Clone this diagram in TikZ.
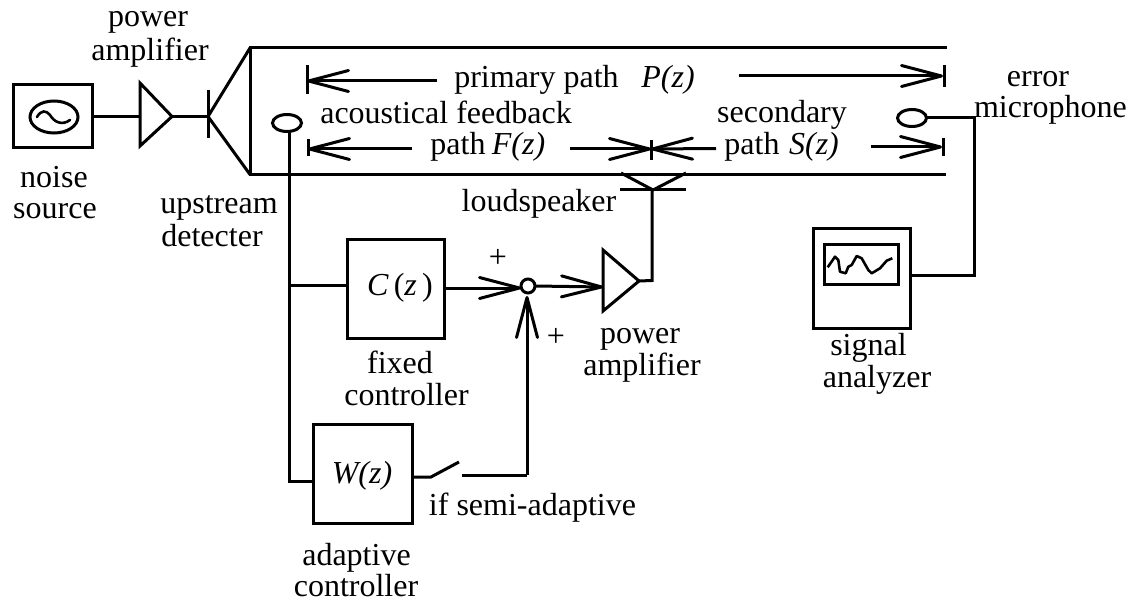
\documentclass[tikz,border=0pt]{standalone}
\usepackage{fontspec}
\setmainfont{Liberation Serif}
\usetikzlibrary{arrows.meta,shapes.geometric}
\tikzset{
  wire/.style={line width=3pt,line cap=butt,line join=miter},
  openhead/.style={-{Straight Barb[length=40pt,width=21pt,line width=3pt,round=false]}},
  box/.style={draw,line width=3pt,inner sep=0pt,outer sep=0pt},
  lbl/.style={inner sep=0pt,outer sep=0pt,anchor=base,font=\fontsize{32}{33}\selectfont},
  ital/.style={lbl,font=\fontsize{32}{33}\selectfont\itshape},
  mic/.style={draw,ellipse,line width=3pt,inner sep=0pt,outer sep=0pt,minimum width=29pt,minimum height=17pt},
}
\begin{document}
\begin{tikzpicture}[x=1pt,y=-1pt]
\useasboundingbox (0,0) rectangle (1138,604);
% nodes: boxes
\node[box,minimum width=79pt,minimum height=63pt] (src) at (53,116.5) {};
\node[box,ellipse,minimum width=48pt,minimum height=32pt] (srcosc) at (54,117) {};
\node[box,minimum width=97pt,minimum height=98pt] (cbox) at (395.5,289) {};
\node[box,minimum width=99pt,minimum height=99pt] (wbox) at (362.5,473.5) {};
\node[box,minimum width=97pt,minimum height=99pt] (ana) at (861.5,278.5) {};
\node[box,minimum width=74pt,minimum height=39pt] (anascreen) at (861,264.5) {};
\node[mic] (micL) at (287,123) {};
\node[mic] (micR) at (912,118) {};
\node[box,circle,minimum size=14pt] (sum) at (528,286) {};
% coordinates
\coordinate (ampA1) at (140,83);\coordinate (ampA2) at (140,146);\coordinate (ampAt) at (172,116.5);
\coordinate (ampAin) at (140,116.5);
\coordinate (det) at (208,116.5);
\coordinate (detT) at (208,90);\coordinate (detB) at (208,138);
\coordinate (hornT) at (250,48);\coordinate (hornB) at (250,174.5);
\coordinate (ductTE) at (946.5,48);\coordinate (ductBE) at (946,174.5);
\coordinate (pLt) at (307,65);\coordinate (pLb) at (307,94);\coordinate (pL) at (307,81);\coordinate (pLe) at (437,81);
\coordinate (pRs) at (739,76);\coordinate (pR) at (943,76);\coordinate (pRt) at (944,65);\coordinate (pRb) at (944,87);
\coordinate (fLt) at (308,139);\coordinate (fLb) at (308,156);\coordinate (fL) at (308,149);\coordinate (fLe) at (412,149);
\coordinate (fRs) at (570,149);\coordinate (mid) at (651,149);\coordinate (midT) at (651,140);\coordinate (midB) at (651,160);
\coordinate (sLs) at (716,148.5);
\coordinate (sRs) at (871,147);\coordinate (sR) at (942,147);\coordinate (sRt) at (943,138);\coordinate (sRb) at (943,156);
\coordinate (spkL) at (621,173);\coordinate (spkR) at (686,173);\coordinate (spkM) at (653,190);
\coordinate (spkBL) at (620,190);\coordinate (spkBR) at (686,190);
\coordinate (ampBo) at (652,280.5);
\coordinate (ampB1) at (603,250);\coordinate (ampB2) at (603,311);\coordinate (ampBt) at (639,281);\coordinate (ampBin) at (603,287);
\coordinate (busT) at (289.5,135);\coordinate (busC) at (289.5,285);\coordinate (busW) at (289.5,481);
\coordinate (cOut) at (521,288);
\coordinate (swA) at (431,477);\coordinate (swB) at (459,462);\coordinate (swC) at (462,475);\coordinate (swD) at (527,475);
\coordinate (sumIn) at (527,296);
\coordinate (errC) at (974,118);\coordinate (errD) at (974,275);
% duct
\draw[wire] (ductTE) -- (hornT) -- (hornB) -- (ductBE);
\draw[wire,line join=round] (hornT) -- (det) -- (hornB);
\draw[wire] (detT) -- (detB);
% source and amp
\draw[wire] (src.east) -- (ampAin);
\draw[wire] (ampAt) -- (det);
\draw[wire] (ampA1) -- (ampAt) -- (ampA2) -- cycle;
\draw[line width=2.6pt,line cap=round] (37,117) .. controls (41,110) and (46,110) .. (50,115) .. controls (54,122) and (62,126) .. (70,120);
% path arrows
\draw[wire] (pLt) -- (pLb);
\draw[wire,openhead] (pLe) -- (pL);
\draw[wire,openhead] (pRs) -- (pR);
\draw[wire] (pRt) -- (pRb);
\draw[wire] (fLt) -- (fLb);
\draw[wire,openhead] (fLe) -- (fL);
\draw[wire,openhead] (fRs) -- (mid);
\draw[wire] (midT) -- (midB);
\draw[wire,openhead] (sLs) -- (mid);
\draw[wire,openhead] (sRs) -- (sR);
\draw[wire] (sRt) -- (sRb);
% loudspeaker
\draw[wire,line join=round] (spkL) -- (spkM) -- (spkR);
\draw[wire] (spkBL) -- (spkBR);
\draw[wire] (spkM -| ampBo) -- (ampBo) -- (ampBt);
\draw[wire] (ampB1) -- (ampBt) -- (ampB2) -- cycle;
% upstream detector bus
\draw[wire] (micL.south -| busT) -- (busW) -- (wbox.west |- busW);
\draw[wire] (busC) -- (cbox.west |- busC);
% summer
\draw[wire,openhead] (cbox.east |- cOut) -- (cOut);
\draw[wire,openhead] (sum.east) -- (ampBin);
\draw[wire] (wbox.east |- swA) -- (swA) -- (swB);
\draw[wire] (swC) -- (swD);
\draw[wire,openhead] (swD) -- (sumIn);
% error mic
\draw[wire] (micR.east) -- (errC) -- (errD) -- (ana.east |- errD);
\draw[line width=2.6pt,line join=round] (827.7,267.3) -- (835,256.7) -- (838.3,260) -- (840,271.7) -- (845.7,273.3) -- (848.3,266.7) -- (851.7,265) -- (856.7,256) -- (861.7,258.3) -- (868.3,270) -- (871.7,273.3) -- (880,268.3) -- (886.7,260.7) -- (892.3,258.3);
% text
\node[lbl] (t1) at (148,27) {power};
\node[lbl] (t2) at (150,61) {amplifier};
\node[lbl] (t3) at (54,188) {noise};
\node[lbl] (t4) at (55,219) {source};
\node[lbl] (t5) at (219,214) {upstream};
\node[lbl] (t6) at (212,247) {detecter};
\node[lbl] (t7) at (446,124) {acoustical feedback};
\node[lbl] (t8) at (536.5,88) {primary path};
\node[ital] (t9) at (668,88) {P(z)};
\node[lbl] (t10) at (458,155) {path};
\node[ital] (t11) at (518.5,155) {F(z)};
\node[lbl] (t12) at (782,123) {secondary};
\node[lbl] (t13) at (752,155) {path};
\node[ital] (t14) at (814,155) {S(z)};
\node[lbl] (t15) at (1038,87) {error};
\node[lbl] (t16) at (1050.5,118) {microphone};
\node[lbl] (t17) at (539,212) {loudspeaker};
\node[ital] (t18) at (400,295) {C\,\textup{(}z\,\textup{)}};
\node[lbl] (t19) at (400,373) {fixed};
\node[lbl] (t20) at (406.5,405) {controller};
\node[lbl] (t21) at (640,343) {power};
\node[lbl] (t22) at (642,375) {amplifier};
\node[ital] (t23) at (362,483) {W(z)};
\node[lbl] (t24) at (532.5,515) {if semi-adaptive};
\node[lbl] (t25) at (356.5,565) {adaptive};
\node[lbl] (t26) at (356,596) {controller};
\node[lbl] (t27) at (868.5,355) {signal};
\node[lbl] (t28) at (877,387) {analyzer};
\node[lbl] (t29) at (498,267) {+};
\node[lbl] (t30) at (556,346) {+};
\end{tikzpicture}
\end{document}
